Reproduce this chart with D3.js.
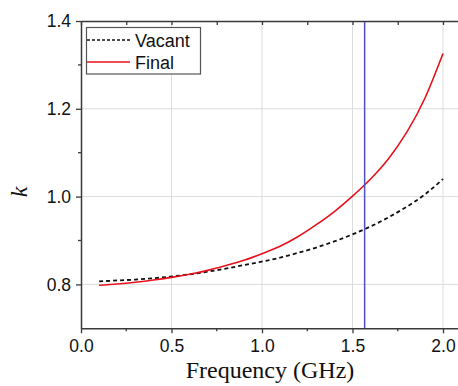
<!DOCTYPE html>
<html>
<head>
<meta charset="utf-8">
<script src="https://cdn.jsdelivr.net/npm/d3@7"></script>
<style>
  html, body { margin: 0; padding: 0; background: #fff; }
  svg { display: block; }
</style>
</head>
<body>
<svg id="chart" width="458" height="386"></svg>
<script>
// frequency samples (GHz)
const freq = [0.1, 0.2, 0.3, 0.4, 0.5, 0.6, 0.7, 0.8, 0.9, 1.0,
              1.1, 1.2, 1.3, 1.4, 1.5, 1.6, 1.7, 1.8, 1.9, 2.0];
const vacant = [0.807, 0.809, 0.811, 0.814, 0.818, 0.823, 0.829, 0.836, 0.844, 0.852,
                0.861, 0.872, 0.884, 0.898, 0.914, 0.932, 0.953, 0.977, 1.005, 1.040];
const finalK = [0.798, 0.801, 0.805, 0.810, 0.816, 0.823, 0.832, 0.843, 0.855, 0.870,
                0.887, 0.909, 0.936, 0.966, 1.001, 1.040, 1.087, 1.147, 1.224, 1.326];
const markerFreq = 1.567;
const xTicks = [0.0, 0.5, 1.0, 1.5, 2.0];
const xMinor = [0.25, 0.75, 1.25, 1.75];
const yTicks = [0.8, 1.0, 1.2, 1.4];
const yMinor = [0.9, 1.1, 1.3];
const seriesNames = ["Vacant", "Final"];

const svg = d3.select("#chart");
const mLeft = 81, mTop = 21, mBottom = 328.3;

const x = d3.scaleLinear().domain([0, 2.1]).range([mLeft, mLeft + 2.1 * 181]);
const y = d3.scaleLinear().domain([0.7, 1.4]).range([mBottom, mTop]);
const mRight = x(2.1);

// grid
const grid = svg.append("g").attr("stroke", "#dcdcdc").attr("stroke-width", 1);
grid.selectAll("line.gx").data(xTicks.slice(1)).enter().append("line")
    .attr("x1", d => x(d)).attr("x2", d => x(d))
    .attr("y1", mTop).attr("y2", mBottom);
grid.selectAll("line.gy").data(yTicks.slice(0, 3)).enter().append("line")
    .attr("x1", mLeft).attr("x2", mRight)
    .attr("y1", d => y(d)).attr("y2", d => y(d));

// curves
const line = d3.line().x(d => x(d[0])).y(d => y(d[1])).curve(d3.curveNatural);

svg.append("path")
    .datum(freq.map((f, i) => [f, vacant[i]]))
    .attr("fill", "none")
    .attr("stroke", "#111")
    .attr("stroke-width", 1.8)
    .attr("stroke-dasharray", "4,3")
    .attr("d", line);

svg.append("path")
    .datum(freq.map((f, i) => [f, finalK[i]]))
    .attr("fill", "none")
    .attr("stroke", "#e8121c")
    .attr("stroke-width", 1.6)
    .attr("d", line);

// vertical marker
svg.append("line")
    .attr("x1", x(markerFreq)).attr("x2", x(markerFreq))
    .attr("y1", mTop).attr("y2", mBottom)
    .attr("stroke", "#4f4fc8")
    .attr("stroke-width", 1.5);

// axes
const axisColor = "#3a3a3a";
const tickFont = "'Liberation Sans', Arial, sans-serif";

const xAxis = svg.append("g").attr("transform", `translate(0,${mBottom})`)
    .call(d3.axisBottom(x).tickValues(xTicks).tickSize(5).tickSizeOuter(0).tickFormat(d3.format(".1f")));
xAxis.append("g").selectAll("line").data(xMinor).enter().append("line")
    .attr("x1", d => x(d)).attr("x2", d => x(d)).attr("y1", 0).attr("y2", 3);

const yAxis = svg.append("g").attr("transform", `translate(${mLeft},0)`)
    .call(d3.axisLeft(y).tickValues(yTicks).tickSize(5).tickSizeOuter(0).tickFormat(d3.format(".1f")));
yAxis.append("g").selectAll("line").data(yMinor).enter().append("line")
    .attr("y1", d => y(d)).attr("y2", d => y(d)).attr("x1", 0).attr("x2", -3);

const topAxis = svg.append("g").attr("transform", `translate(0,${mTop})`)
    .call(d3.axisBottom(x).tickValues(xTicks.concat(xMinor)).tickSize(4).tickSizeOuter(0).tickFormat(""));

[xAxis, yAxis, topAxis].forEach(a => {
    a.select(".domain").attr("stroke", axisColor).attr("stroke-width", 1.5);
    a.selectAll("line").attr("stroke", axisColor).attr("stroke-width", 1.3);
    a.selectAll("text").attr("fill", "#111").style("font-family", tickFont).style("font-size", "17.5px");
});
xAxis.selectAll("text").attr("dy", "0.71em").attr("y", 11);
yAxis.selectAll("text").attr("x", -10);

// axis titles
svg.append("text")
    .attr("x", 270).attr("y", 378)
    .attr("text-anchor", "middle")
    .style("font-family", "'Liberation Serif', 'Times New Roman', serif")
    .style("font-size", "24px")
    .attr("fill", "#111")
    .text("Frequency (GHz)");

svg.append("text")
    .attr("transform", "translate(27,192) rotate(-90)")
    .attr("text-anchor", "middle")
    .style("font-family", "'Liberation Serif', 'Times New Roman', serif")
    .style("font-style", "italic")
    .style("font-size", "24px")
    .attr("fill", "#111")
    .text("k");

// legend
const legend = svg.append("g");
legend.append("rect")
    .attr("x", 86.5).attr("y", 27.5).attr("width", 114).attr("height", 46.5)
    .attr("fill", "#fff").attr("stroke", "#555").attr("stroke-width", 1.2);
const legendRows = [
    { name: seriesNames[0], color: "#111", dash: "3,2", w: 1.4 },
    { name: seriesNames[1], color: "#e8121c", dash: null, w: 1.6 }
];
legendRows.forEach((r, i) => {
    const cy = 40 + i * 22;
    legend.append("line")
        .attr("x1", 87).attr("x2", 130).attr("y1", cy).attr("y2", cy)
        .attr("stroke", r.color).attr("stroke-width", r.w)
        .attr("stroke-dasharray", r.dash);
    legend.append("text")
        .attr("x", 135).attr("y", cy + 6.5)
        .style("font-family", tickFont).style("font-size", "18px")
        .attr("fill", "#111")
        .text(r.name);
});
</script>
</body>
</html>
